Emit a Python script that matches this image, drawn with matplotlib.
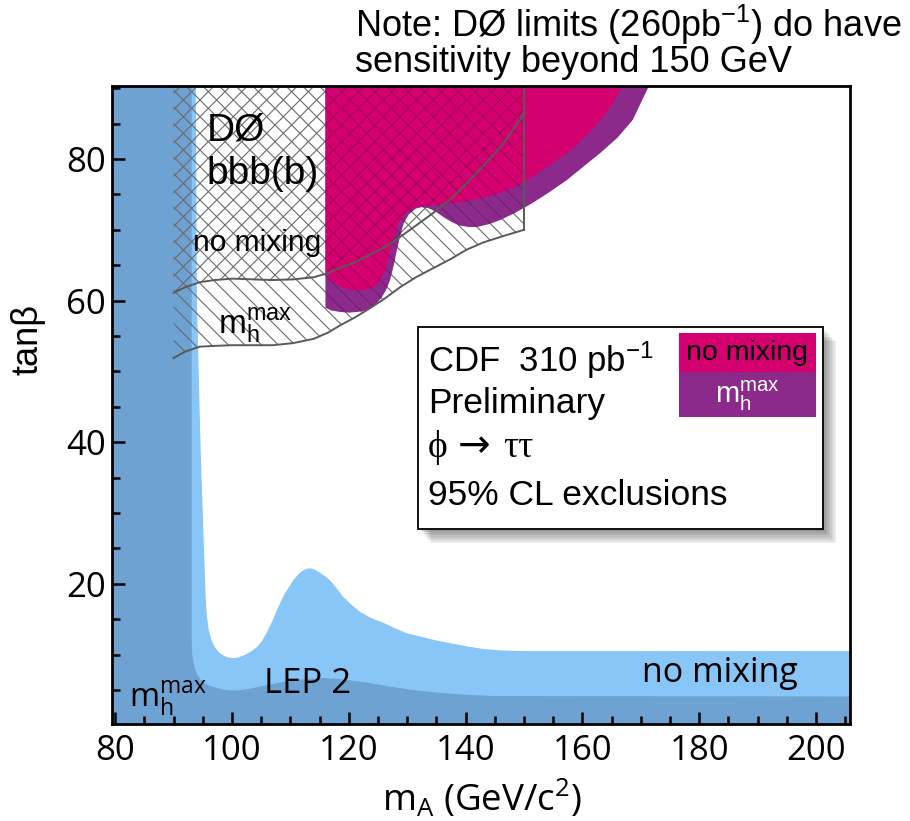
import matplotlib
matplotlib.use("Agg")
import matplotlib.pyplot as plt
from matplotlib.patches import Rectangle
from matplotlib.ticker import MultipleLocator
from matplotlib.transforms import offset_copy

# ---------------- data ----------------
# LEP 2 exclusion, no-mixing scenario (upper edge of light-blue band)
lep_nomix_x = [93.8, 94.0, 94.6, 95.2, 95.5, 95.7, 96.0, 96.5, 97.1, 97.8, 98.5, 99.3, 100.2,
               101.1, 102.0, 103.2, 104.3, 105.2, 106.0, 106.9, 107.7, 109.0, 110.5, 111.3,
               112.0, 112.7, 113.4, 114.2, 115.0, 115.9, 116.8, 117.9, 119.0, 120.5, 122.0,
               124.0, 125.9, 128.0, 130.0, 132.5, 135.0, 137.5, 140.0, 143.0, 146.0, 150.0, 206.0]
lep_nomix_y = [90.5, 60.0, 40.0, 25.0, 18.0, 15.5, 13.6, 12.0, 11.0, 10.3, 9.9, 9.6, 9.5,
               9.6, 9.9, 10.4, 11.1, 12.0, 13.2, 14.7, 16.3, 18.6, 20.5, 21.3,
               21.8, 22.1, 22.2, 22.0, 21.6, 21.1, 20.5, 19.4, 18.2, 17.0, 16.0,
               15.1, 14.5, 13.7, 13.0, 12.5, 12.0, 11.6, 11.2, 10.8, 10.6, 10.5, 10.5]

# LEP 2 exclusion, m_h^max scenario (upper edge of dark-blue band)
lep_mhmax_x = [93.1, 93.1, 93.2, 93.4, 93.7, 94.1, 94.6, 95.3, 96.2, 97.3, 98.5, 99.8, 101.0,
               102.5, 104.0, 106.0, 108.5, 111.0, 113.5, 115.6, 117.8, 120.0, 123.5, 127.0,
               131.0, 135.6, 140.0, 145.0, 206.0]
lep_mhmax_y = [90.5, 12.0, 10.0, 8.9, 7.9, 7.1, 6.5, 6.0, 5.6, 5.3, 5.05, 4.95, 4.95,
               5.1, 5.35, 5.7, 6.1, 6.4, 6.6, 6.7, 6.6, 6.4, 6.0, 5.5,
               5.0, 4.6, 4.35, 4.15, 4.1]

# CDF phi->tautau, m_h^max scenario (lower edge of purple region)
cdf_mhmax_x = [116.0, 116.0, 117.0, 118.5, 120.0, 121.5, 123.0, 124.3, 125.5, 126.4, 127.1,
               127.7, 128.2, 128.8, 129.4, 130.3, 131.5, 132.5, 133.5, 134.8, 136.2, 137.6,
               139.0, 140.5, 142.0, 144.0, 146.0, 148.5, 151.5, 154.5, 157.3, 160.0, 163.0,
               166.0, 168.6, 171.5]
cdf_mhmax_y = [90.5, 59.0, 58.6, 58.4, 58.3, 58.4, 58.6, 59.2, 60.3, 61.5, 63.0,
               65.0, 67.0, 69.2, 70.9, 72.2, 73.0, 73.2, 73.1, 72.6, 71.8, 71.1,
               70.6, 70.4, 70.4, 70.8, 71.4, 72.4, 73.8, 75.4, 77.0, 78.8, 80.8,
               83.0, 85.5, 90.5]

# CDF phi->tautau, no-mixing scenario (lower edge of magenta region)
cdf_nomix_x = [116.0, 116.0, 116.8, 117.8, 119.0, 120.3, 121.5, 122.8, 123.9, 124.8, 125.5,
               126.3, 127.0, 127.6, 128.2, 128.9, 130.0, 131.0, 132.0, 133.3, 134.8, 137.0,
               140.0, 143.0, 146.0, 148.8, 151.5, 154.5, 157.3, 159.5, 161.5, 163.3, 165.0,
               167.0]
cdf_nomix_y = [90.5, 64.0, 63.0, 62.3, 61.8, 61.5, 61.4, 61.5, 61.8, 62.3, 63.0,
               64.5, 66.5, 68.5, 70.3, 71.5, 72.5, 73.1, 73.3, 73.4, 73.5, 73.7,
               74.0, 74.5, 75.2, 76.2, 77.5, 79.2, 80.8, 82.4, 84.0, 85.7, 87.6,
               90.5]

# D0 bbb(b) limits
d0_x = [90, 92, 94.5, 97, 100, 103.5, 107, 110.5, 114, 116.5, 118.5, 121, 123, 126,
        128.8, 131.5, 134.5, 137.5, 140.2, 143, 146, 148, 150]
d0_nomix_y = [61.1, 61.9, 62.6, 62.9, 63.1, 63.0, 62.9, 63.0, 63.3, 63.9, 64.6, 65.4, 66.2,
              67.5, 69.0, 70.6, 72.4, 74.4, 76.6, 79.0, 81.7, 84.0, 86.5]
d0_mhmax_y = [51.9, 52.8, 53.5, 53.6, 53.7, 53.7, 53.7, 54.0, 54.6, 55.5, 56.5, 57.6, 58.6,
              60.2, 61.9, 63.3, 64.6, 65.9, 67.2, 68.2, 69.0, 69.5, 70.0]

x_ticks = [80, 100, 120, 140, 160, 180, 200]
y_ticks = [20, 40, 60, 80]

# ---------------- style ----------------
C_LEP_NOMIX = "#88c6f8"
C_LEP_MHMAX = "#6ea2d2"
C_CDF_NOMIX = "#d5006f"
C_CDF_MHMAX = "#8b2a8b"
C_HATCH = "#6a6a6a"
ARIAL = ["Liberation Sans", "DejaVu Sans"]
HUMANIST = ["Open Sans", "DejaVu Sans"]
SERIF = ["Liberation Serif", "DejaVu Serif"]

plt.rcParams["font.family"] = ARIAL
plt.rcParams["mathtext.default"] = "regular"
plt.rcParams["hatch.linewidth"] = 0.8
plt.rcParams["hatch.color"] = C_HATCH

fig = plt.figure(figsize=(9.1, 8.21), dpi=100)
ax = fig.add_axes([0.1227, 0.1181, 0.8113, 0.7771])
XMIN, XMAX = 79.4, 205.8
YMIN, YMAX = 0.2, 90.3
ax.set_xlim(XMIN, XMAX)
ax.set_ylim(YMIN, YMAX)

lo_y, hi_y = YMIN - 1, YMAX + 1
lo_x, hi_x = XMIN - 1, XMAX + 1

# LEP exclusions
ax.fill(lep_nomix_x + [hi_x, hi_x, lo_x, lo_x], lep_nomix_y + [lep_nomix_y[-1], lo_y, lo_y, hi_y],
        color=C_LEP_NOMIX, lw=0, zorder=1)
ax.fill(lep_mhmax_x + [hi_x, hi_x, lo_x, lo_x], lep_mhmax_y + [lep_mhmax_y[-1], lo_y, lo_y, hi_y],
        color=C_LEP_MHMAX, lw=0, zorder=1.1)

# D0 hatched regions (m_h^max: back diagonal, no mixing: forward diagonal)
ax.fill_between(d0_x, d0_mhmax_y, hi_y, facecolor="none", edgecolor=C_HATCH,
                hatch="\\\\", lw=0, zorder=2)
ax.fill_between(d0_x, d0_nomix_y, hi_y, facecolor="none", edgecolor=C_HATCH,
                hatch="//", lw=0, zorder=2)

# CDF exclusions
purple = ax.fill(cdf_mhmax_x, cdf_mhmax_y, color=C_CDF_MHMAX, lw=0, zorder=3)[0]
ax.fill(cdf_nomix_x, cdf_nomix_y, color=C_CDF_NOMIX, lw=0, zorder=3.1)

# D0 hatching seen faintly through the CDF regions
for ylow, h in ((d0_mhmax_y, "\\\\"), (d0_nomix_y, "//")):
    coll = ax.fill_between(d0_x, ylow, hi_y, facecolor="none",
                           edgecolor=(0.25, 0.0, 0.2, 0.3), hatch=h, lw=0, zorder=3.5)
    coll.set_clip_path(purple)

# D0 outlines
ax.plot(d0_x, d0_nomix_y, color="#5a5a5a", lw=1.4, zorder=4)
ax.plot(d0_x, d0_mhmax_y, color="#5a5a5a", lw=1.4, zorder=4)
ax.plot([d0_x[-1], d0_x[-1]], [d0_mhmax_y[-1], hi_y], color="#5a5a5a", lw=1.4, zorder=4)

# labels inside the plot
ax.text(95.6, 82.6, "DØ", fontsize=28, zorder=5)
ax.text(95.6, 76.5, "bbb(b)", fontsize=28, zorder=5)
ax.text(93.3, 67.0, "no mixing", fontsize=21.5, zorder=5)
ax.text(97.6, 55.3, r"m$_h^{max}$", fontsize=24, zorder=5)

ax.text(105.5, 4.6, "LEP 2", fontsize=25, family=HUMANIST, zorder=5)
ax.text(82.4, 2.6, r"m$_h^{max}$", fontsize=23.5, family=HUMANIST, zorder=5)
ax.text(196.9, 6.2, "no mixing", fontsize=24.5, family=HUMANIST, ha="right", zorder=5)

# legend box with soft shadow
bx0, by0, bw, bh = 0.4149, 0.3056, 0.5485, 0.3167
for k in range(1, 10):
    tr = offset_copy(ax.transAxes, fig=fig, x=1.5 * k, y=-1.6 * k, units="dots")
    ax.add_patch(Rectangle((bx0, by0), bw, bh, transform=tr, facecolor="black",
                           edgecolor="none", alpha=0.055, zorder=8, clip_on=False))
ax.add_patch(Rectangle((bx0, by0), bw, bh, transform=ax.transAxes, facecolor="white",
                       edgecolor="black", lw=1.3, zorder=9, clip_on=False))
ax.add_patch(Rectangle((0.7684, 0.5517), 0.1855, 0.0612, transform=ax.transAxes,
                       facecolor=C_CDF_NOMIX, edgecolor="none", zorder=10))
ax.add_patch(Rectangle((0.7684, 0.4812), 0.1855, 0.0705, transform=ax.transAxes,
                       facecolor=C_CDF_MHMAX, edgecolor="none", zorder=10))
ax.text(0.8611, 0.5823, "no mixing", transform=ax.transAxes, fontsize=20.5,
        ha="center", va="center", zorder=11)
ax.text(0.8611, 0.5150, r"m$_h^{max}$", transform=ax.transAxes, fontsize=21,
        ha="center", va="center", color="white", zorder=11)

ax.text(0.4284, 0.5517, r"CDF  310 pb$^{-1}$", transform=ax.transAxes, fontsize=25, zorder=11)
ax.text(0.4284, 0.4875, "Preliminary", transform=ax.transAxes, fontsize=25.5, zorder=11)
ax.text(0.4284, 0.4185, "ϕ", transform=ax.transAxes, fontsize=27, family=SERIF, zorder=11)
ax.text(0.4690, 0.4185, "→", transform=ax.transAxes, fontsize=28,
        family=["DejaVu Sans"], zorder=11)
ax.text(0.5300, 0.4185, "ττ", transform=ax.transAxes, fontsize=27, family=SERIF, zorder=11)
ax.text(0.4284, 0.3433, "95% CL exclusions", transform=ax.transAxes, fontsize=25.5, zorder=11)

# note above the frame
fig.text(0.390, 0.955, r"Note: DØ limits (260pb$^{-1}$) do have", fontsize=26)
fig.text(0.390, 0.912, "sensitivity beyond 150 GeV", fontsize=26)

# axes, ticks, labels
for s in ax.spines.values():
    s.set_linewidth(2.0)
    s.set_zorder(12)
ax.set_xticks(x_ticks, labels=[str(v) for v in x_ticks], fontsize=25, family=HUMANIST)
ax.set_yticks(y_ticks, labels=[str(v) for v in y_ticks], fontsize=25, family=HUMANIST)
ax.xaxis.set_minor_locator(MultipleLocator(5))
ax.yaxis.set_minor_locator(MultipleLocator(5))
ax.tick_params(which="both", direction="in", width=1.8, top=False, right=False, zorder=12)
ax.tick_params(which="major", length=9)
ax.tick_params(which="minor", length=5.5)
ax.tick_params(axis="x", which="both", pad=7)
ax.tick_params(axis="y", which="both", pad=4)

ax.set_xlabel(r"m$_A$ (GeV/c$^2$)", fontsize=26.5, family=HUMANIST)
ax.xaxis.set_label_coords(0.5016, -0.084)
ax.set_ylabel("tanβ", fontsize=26)
ax.yaxis.set_label_coords(-0.090, 0.602)

fig.savefig("out.png", dpi=100, facecolor="white")
